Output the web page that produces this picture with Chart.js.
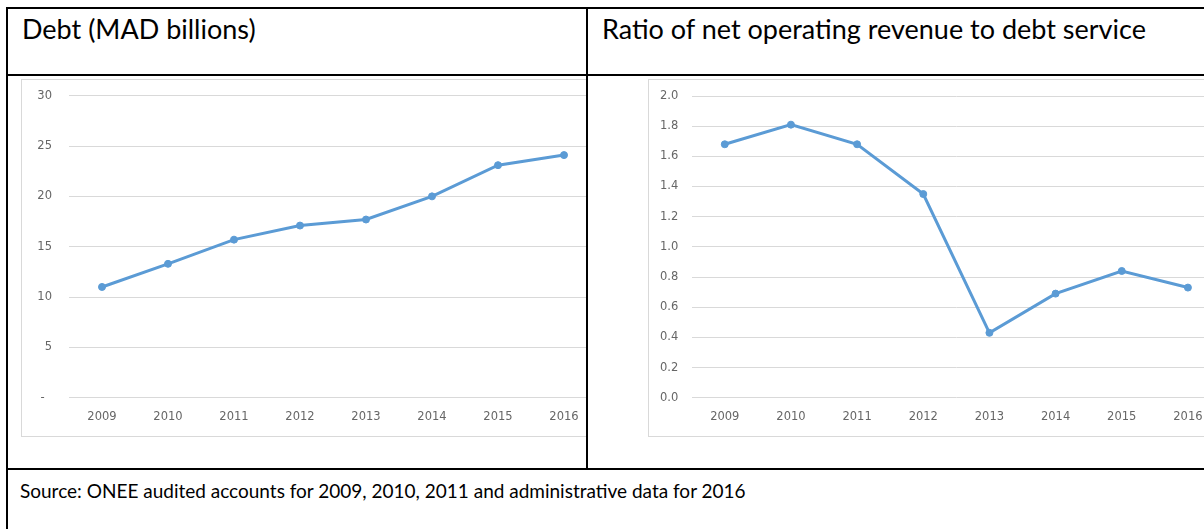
<!DOCTYPE html>
<html>
<head>
<meta charset="utf-8">
<script src="https://cdn.jsdelivr.net/npm/chart.js@4/dist/chart.umd.min.js"></script>
<style>
    body { margin: 0; width: 1204px; height: 529px; overflow: hidden; background: #fff; position: relative; font-family: Lato, "Open Sans", sans-serif; }
    .rule { position: absolute; background: #000; }
    .title { position: absolute; font-size: 27px; color: #000; white-space: nowrap; line-height: 1; }
    .source { position: absolute; left: 20px; top: 481px; font-size: 19px; color: #000; white-space: nowrap; line-height: 1; }
    .cell { position: absolute; overflow: hidden; }
    .frame { position: absolute; border: 1px solid #d9d9d9; background: #fff; }
    .frame canvas { position: absolute; left: 0; top: 0; }
</style>
</head>
<body>

<!-- table rules -->
<div class="rule" style="left:6px; top:7px; width:1200px; height:2px;"></div>
<div class="rule" style="left:6px; top:7px; width:2px; height:530px;"></div>
<div class="rule" style="left:6px; top:74px; width:1200px; height:2px;"></div>
<div class="rule" style="left:586px; top:7px; width:2px; height:463px;"></div>
<div class="rule" style="left:6px; top:468px; width:1200px; height:2px;"></div>

<div class="title" style="left:22px; top:15px;">Debt (MAD billions)</div>
<div class="title" style="left:602px; top:15px;">Ratio of net operating revenue to debt service</div>

<div class="cell" style="left:8px; top:76px; width:578px; height:392px;">
    <div class="frame" style="left:13px; top:3px; width:600px; height:356px;">
        <canvas id="debtChart" width="600" height="356"></canvas>
    </div>
</div>

<div class="cell" style="left:588px; top:76px; width:616px; height:392px;">
    <div class="frame" style="left:60px; top:3px; width:600px; height:356px;">
        <canvas id="ratioChart" width="600" height="356"></canvas>
    </div>
</div>

<div class="source">Source: ONEE audited accounts for 2009, 2010, 2011 and administrative data for 2016</div>

<script>
// Years shared by both charts
const years = ['2009', '2010', '2011', '2012', '2013', '2014', '2015', '2016'];

// Debt, MAD billions
const debtValues = [11.0, 13.3, 15.7, 17.1, 17.7, 20.0, 23.1, 24.1];
const debtTicks = [0, 5, 10, 15, 20, 25, 30];

// Net operating revenue / debt service
const ratioValues = [1.68, 1.81, 1.68, 1.35, 0.43, 0.69, 0.84, 0.73];
const ratioTicks = [0, 0.2, 0.4, 0.6, 0.8, 1.0, 1.2, 1.4, 1.6, 1.8, 2.0];

const lineColor = '#5B9BD5';
const gridColor = '#d9d9d9';
const tickFont = { family: 'DejaVu Sans', size: 11.5 };
const tickColor = '#666666';

function lineChart(id, values, ticks, opts) {
    const ctx = document.getElementById(id).getContext('2d');
    return new Chart(ctx, {
        type: 'line',
        data: {
            labels: years,
            datasets: [{
                data: values,
                borderColor: lineColor,
                backgroundColor: lineColor,
                borderWidth: 3,
                pointRadius: 3.5,
                pointBorderWidth: 1,
                pointBackgroundColor: lineColor,
                tension: 0
            }]
        },
        options: {
            responsive: false,
            animation: false,
            layout: { padding: { top: opts.top, right: opts.right, bottom: 0, left: 0 } },
            plugins: { legend: { display: false }, tooltip: { enabled: false } },
            scales: {
                x: {
                    offset: true,
                    grid: { display: false, drawTicks: false },
                    border: { display: false },
                    ticks: { font: tickFont, color: tickColor, padding: 12, maxRotation: 0, autoSkip: false },
                    afterFit(scale) { scale.height = 38.3; }
                },
                y: {
                    min: ticks[0],
                    max: ticks[ticks.length - 1],
                    afterBuildTicks(scale) { scale.ticks = ticks.map(v => ({ value: v })); },
                    grid: { color: gridColor, lineWidth: 1, drawTicks: false },
                    border: { display: false },
                    ticks: { font: tickFont, color: tickColor, padding: opts.labelPad, callback: opts.format },
                    afterFit(scale) {
                        // fixed axis width; the label padding should not push the plot down
                        scale.width = opts.axisWidth;
                        scale.paddingTop = 0;
                        scale.paddingBottom = 0;
                    }
                }
            }
        }
    });
}

const debtChart = lineChart('debtChart', debtValues, debtTicks, {
    top: 15.7, right: 25, axisWidth: 47, labelPad: 17,
    format: v => v === 0 ? '-  ' : String(v)
});

const ratioChart = lineChart('ratioChart', ratioValues, ratioTicks, {
    top: 16, right: 28, axisWidth: 42.7, labelPad: 13.4,
    format: v => v.toFixed(1)
});
</script>
</body>
</html>
